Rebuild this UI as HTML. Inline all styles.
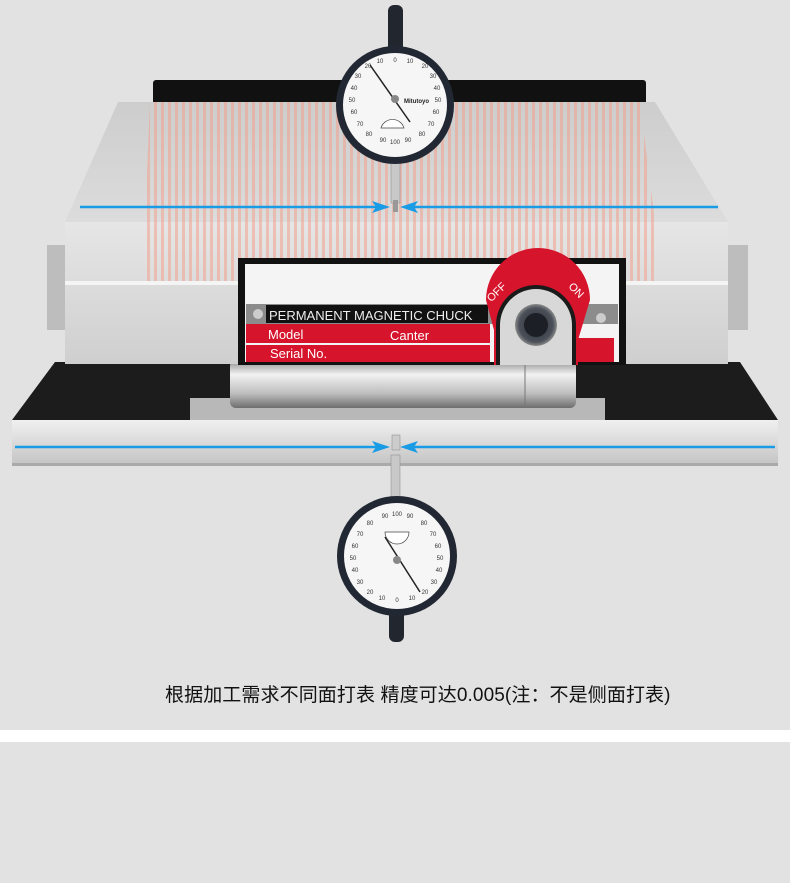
<!DOCTYPE html>
<html><head><meta charset="utf-8"><style>
html,body{margin:0;padding:0;}
body{width:790px;height:883px;background:#e2e2e2;position:relative;overflow:hidden;font-family:"Liberation Sans","Noto Sans CJK SC",sans-serif;}
svg{position:absolute;left:0;top:0;}
.cap{position:absolute;left:165px;top:680px;white-space:nowrap;font-size:19px;letter-spacing:0.1px;color:#111;}
</style></head><body>
<svg width="790" height="883" viewBox="0 0 790 883">
<defs>
<linearGradient id="top" x1="0" y1="0" x2="0" y2="1"><stop offset="0" stop-color="#cdcdcd"/><stop offset="1" stop-color="#dcdcdc"/></linearGradient>
<linearGradient id="face" x1="0" y1="0" x2="0" y2="1"><stop offset="0" stop-color="#e6e6e6"/><stop offset="1" stop-color="#cfcfcf"/></linearGradient>
<linearGradient id="cyl" x1="0" y1="0" x2="0" y2="1"><stop offset="0" stop-color="#8a8a8a"/><stop offset=".3" stop-color="#f2f2f2"/><stop offset=".7" stop-color="#bdbdbd"/><stop offset="1" stop-color="#6e6e6e"/></linearGradient>
<linearGradient id="base" x1="0" y1="0" x2="0" y2="1"><stop offset="0" stop-color="#f0f0f0"/><stop offset="1" stop-color="#c4c4c4"/></linearGradient>
<pattern id="stripes" width="7" height="10" patternUnits="userSpaceOnUse"><rect x="0" width="3" height="10" fill="#f2a08e" opacity=".55"/></pattern>
<radialGradient id="knob"><stop offset="0" stop-color="#2a2f38"/><stop offset=".8" stop-color="#4a4f58"/><stop offset="1" stop-color="#888"/></radialGradient>
</defs>
<rect width="790" height="883" fill="#e2e2e2"/>
<rect x="0" y="730" width="790" height="12" fill="#fff"/>
<rect x="153" y="80" width="493" height="26" rx="3" fill="#111"/>
<rect x="47" y="245" width="20" height="85" fill="#bdbdbd"/>
<rect x="727" y="245" width="21" height="85" fill="#bdbdbd"/>
<polygon points="55,362 740,362 778,420 12,420" fill="#1c1c1c"/>
<rect x="190" y="398" width="415" height="24" fill="#b8b8b8"/>
<rect x="230" y="360" width="346" height="48" rx="6" fill="url(#cyl)"/>
<line x1="525" y1="362" x2="525" y2="406" stroke="#777"/>
<rect x="12" y="420" width="766" height="45" fill="url(#base)"/>
<rect x="12" y="463" width="766" height="3" fill="#aaa"/>
<polygon points="118,102 655,102 728,222 65,222" fill="url(#top)"/>
<polygon points="150,102 640,102 655,222 145,222" fill="url(#stripes)"/>
<rect x="65" y="222" width="663" height="142" fill="url(#face)"/>
<rect x="145" y="222" width="510" height="60" fill="url(#stripes)"/>
<rect x="65" y="281" width="663" height="4" fill="#f4f4f4"/>
<rect x="238" y="258" width="388" height="107" fill="#111"/>
<rect x="245" y="264" width="374" height="98" fill="#f4f4f4"/>
<rect x="246" y="304" width="372" height="20" fill="#8c8c8c"/>
<rect x="266" y="305" width="222" height="18" fill="#111"/>
<text x="269" y="320" font-size="13" fill="#eee" font-family="Liberation Sans">PERMANENT MAGNETIC CHUCK</text>
<circle cx="258" cy="314" r="5" fill="#ccc"/>
<rect x="246" y="324" width="244" height="19" fill="#d6142c"/>
<rect x="246" y="345" width="244" height="17" fill="#d6142c"/>
<text x="268" y="339" font-size="13" fill="#fff">Model</text>
<text x="390" y="340" font-size="13" fill="#fff">Canter</text>
<text x="270" y="358" font-size="13" fill="#fff">Serial No.</text>
<rect x="576" y="338" width="38" height="24" fill="#d6142c"/>
<circle cx="601" cy="318" r="5" fill="#ccc"/>
<path d="M486,300 A52,52 0 0 1 590,300 L578,340 L578,365 L566,365 L566,325 A30,30 0 0 0 506,325 L506,365 L494,365 L494,330 Z" fill="#d6142c"/>
<path d="M496,365 L496,325 A40,40 0 0 1 576,325 L576,365 Z" fill="#1a1a1a"/>
<path d="M500,365 L500,325 A36,36 0 0 1 572,325 L572,365 Z" fill="#d8d8d8"/>
<circle cx="536" cy="325" r="21" fill="url(#knob)"/>
<circle cx="536" cy="325" r="12" fill="#1c1f26"/>
<text x="487" y="300" font-size="11" fill="#fff" transform="rotate(-45 492 296)">OFF</text>
<text x="565" y="290" font-size="11" fill="#fff" transform="rotate(45 570 292)">ON</text>
<g stroke="#1a9be6" stroke-width="2.5">
<line x1="80" y1="207" x2="385" y2="207"/><line x1="405" y1="207" x2="718" y2="207"/>
<line x1="15" y1="447" x2="385" y2="447"/><line x1="405" y1="447" x2="775" y2="447"/>
</g>
<g fill="#1a9be6">
<polygon points="372,201 390,207 372,213 376,207"/><polygon points="418,201 400,207 418,213 414,207"/>
<polygon points="372,441 390,447 372,453 376,447"/><polygon points="418,441 400,447 418,453 414,447"/>
</g>
<rect x="388" y="5" width="15" height="48" rx="6" fill="#22262e"/>
<rect x="391" y="158" width="9" height="45" fill="#c8c8c8" stroke="#888" stroke-width=".5"/>
<rect x="393" y="200" width="5" height="12" fill="#999"/>
<circle cx="395" cy="105" r="59" fill="#222833"/>
<circle cx="395" cy="105" r="52" fill="#f6f6f6"/>
<g font-size="6" fill="#333" text-anchor="middle" font-family="Liberation Sans">
<text x="395" y="62">0</text><text x="410" y="63">10</text><text x="380" y="63">10</text><text x="425" y="68">20</text><text x="368" y="68">20</text>
<text x="433" y="78">30</text><text x="358" y="78">30</text><text x="437" y="90">40</text><text x="354" y="90">40</text>
<text x="438" y="102">50</text><text x="352" y="102">50</text><text x="436" y="114">60</text><text x="354" y="114">60</text>
<text x="431" y="126">70</text><text x="360" y="126">70</text><text x="422" y="136">80</text><text x="369" y="136">80</text>
<text x="408" y="142">90</text><text x="383" y="142">90</text><text x="395" y="144">100</text>
</g>
<line x1="370" y1="65" x2="410" y2="122" stroke="#222" stroke-width="1.5"/>
<circle cx="395" cy="99" r="4" fill="#888"/>
<path d="M381,128 A12,12 0 0 1 404,128 Z" fill="#fff" stroke="#444" stroke-width=".7"/>
<text x="404" y="103" font-size="6" font-weight="bold" fill="#222">Mitutoyo</text>
<rect x="392" y="435" width="8" height="15" fill="#ccc" stroke="#888" stroke-width=".5"/>
<rect x="391" y="455" width="9" height="52" fill="#c8c8c8" stroke="#888" stroke-width=".5"/>
<rect x="389" y="608" width="15" height="34" rx="6" fill="#22262e"/>
<circle cx="397" cy="556" r="60" fill="#222833"/>
<circle cx="397" cy="556" r="53" fill="#f6f6f6"/>
<g font-size="6" fill="#333" text-anchor="middle" font-family="Liberation Sans">
<text x="397" y="602">0</text><text x="382" y="600">10</text><text x="412" y="600">10</text><text x="370" y="594">20</text><text x="425" y="594">20</text>
<text x="360" y="584">30</text><text x="434" y="584">30</text><text x="355" y="572">40</text><text x="439" y="572">40</text>
<text x="353" y="560">50</text><text x="440" y="560">50</text><text x="355" y="548">60</text><text x="438" y="548">60</text>
<text x="360" y="536">70</text><text x="433" y="536">70</text><text x="370" y="525">80</text><text x="424" y="525">80</text>
<text x="385" y="518">90</text><text x="410" y="518">90</text><text x="397" y="516">100</text>
</g>
<line x1="385" y1="537" x2="420" y2="592" stroke="#222" stroke-width="1.5"/>
<circle cx="397" cy="560" r="4" fill="#888"/>
<path d="M385,532 A12,12 0 0 0 409,532 Z" fill="#fff" stroke="#444" stroke-width=".7"/>
</svg>
<div class="cap">根据加工需求不同面打表 精度可达0.005(注：不是侧面打表)</div>
</body></html>
